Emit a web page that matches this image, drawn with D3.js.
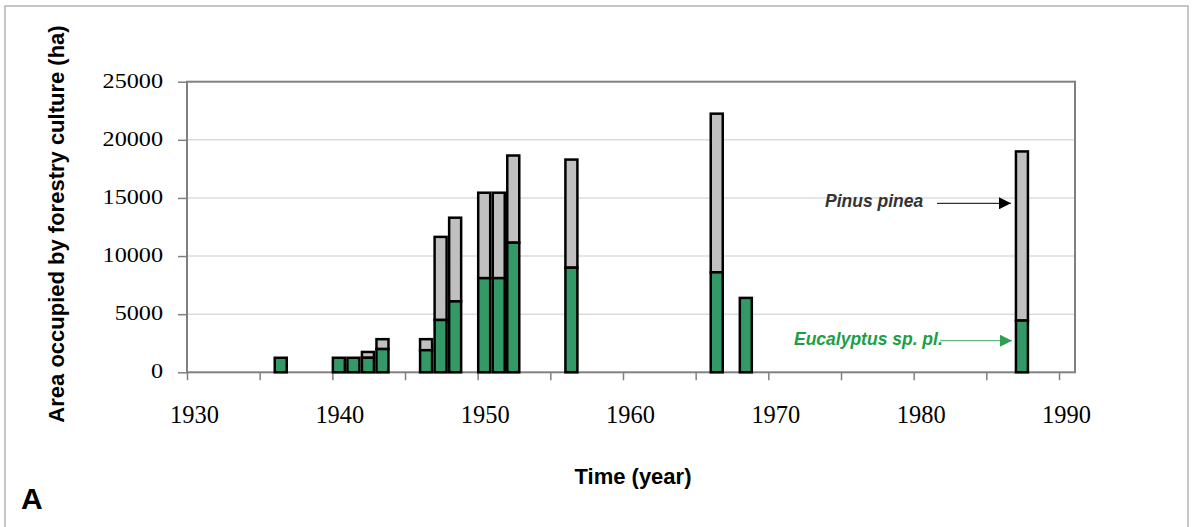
<!DOCTYPE html>
<html lang="en">
  <head>
    <meta charset="utf-8">
    <title>Forestry culture area</title>
    <style>
      body { margin: 0; background: #fff; }
      svg { display: block; }
    </style>
  </head>
  <body>
    <svg width="1198" height="527"></svg>
    <script src="https://cdn.jsdelivr.net/npm/d3@7"></script>
    <script>
      // years with plantings
      const years = [1936, 1940, 1941, 1942, 1943, 1946, 1947, 1948, 1950, 1951, 1952, 1956, 1966, 1968, 1987];
      // hectares per species
      const eucalyptus = [1250, 1250, 1250, 1250, 2000, 1900, 4500, 6100, 8100, 8100, 11150, 9000, 8600, 6400, 4450];
      const pinus = [0, 0, 0, 500, 850, 950, 7150, 7200, 7350, 7350, 7500, 9300, 13650, 0, 14550];

      const xTicks = [1930, 1935, 1940, 1945, 1950, 1955, 1960, 1965, 1970, 1975, 1980, 1985, 1990];
      const xLabels = [1930, 1940, 1950, 1960, 1970, 1980, 1990];
      const yTicks = [0, 5000, 10000, 15000, 20000, 25000];

      const green = '#339966';
      const grey = '#c0c0c0';

      const svg = d3.select('svg');

      const plotL = 187, plotR = 1075, plotT = 81.7, plotB = 372.3;

      const x = d3.scaleLinear().domain([1930, 1990]).range([plotL, 1059]);
      const y = d3.scaleLinear().domain([0, 25000]).range([plotB, plotT]);

      // outer frame
      svg.append('rect')
        .attr('x', 5).attr('y', 6)
        .attr('width', 1183).attr('height', 530)
        .attr('fill', 'none')
        .attr('stroke', '#b4b4b4')
        .attr('stroke-width', 1.5);

      // gridlines
      svg.append('g').selectAll('line')
        .data(yTicks.filter(d => d > 0 && d < 25000)).enter()
        .append('line')
        .attr('x1', plotL).attr('x2', plotR)
        .attr('y1', d => y(d)).attr('y2', d => y(d))
        .attr('stroke', '#dcdcdc')
        .attr('stroke-width', 1.5);

      // plot border
      svg.append('rect')
        .attr('x', plotL).attr('y', plotT)
        .attr('width', plotR - plotL).attr('height', plotB - plotT)
        .attr('fill', 'none')
        .attr('stroke', '#808080')
        .attr('stroke-width', 2);

      // axes (ticks only, labels drawn below)
      const xAxis = svg.append('g')
        .attr('transform', 'translate(0,' + plotB + ')')
        .call(d3.axisBottom(x).tickValues(xTicks).tickSize(8).tickSizeOuter(0).tickFormat(''));
      const yAxis = svg.append('g')
        .attr('transform', 'translate(' + plotL + ',0)')
        .call(d3.axisLeft(y).tickValues(yTicks).tickSize(9).tickSizeOuter(0).tickFormat(''));
      [xAxis, yAxis].forEach(function(a) {
        a.select('.domain').remove();
        a.selectAll('line').attr('stroke', '#808080').attr('stroke-width', 1.5);
      });

      // tick labels
      svg.append('g').selectAll('g')
        .data(xLabels).enter()
        .append('g')
        .attr('transform', d => 'translate(' + (x(d) + 7.5) + ',422.7) scale(0.94,1)')
        .append('text')
        .attr('text-anchor', 'middle')
        .attr('font-family', '"Liberation Serif", "Times New Roman", serif')
        .attr('font-size', 26)
        .attr('fill', '#000')
        .text(d => d);

      svg.append('g').selectAll('g')
        .data(yTicks).enter()
        .append('g')
        .attr('transform', d => 'translate(163,' + (y(d) + 6) + ') scale(1.18,1)')
        .append('text')
        .attr('text-anchor', 'end')
        .attr('font-family', '"Liberation Serif", "Times New Roman", serif')
        .attr('font-size', 20.5)
        .attr('fill', '#000')
        .text(d => d);

      // stacked bars
      const bw = 12;
      const rows = years.map((yr, i) => ({ year: yr, euc: eucalyptus[i], pin: pinus[i] }));
      const bars = svg.append('g').selectAll('g')
        .data(rows).enter()
        .append('g');

      bars.filter(d => d.pin > 0)
        .append('rect')
        .attr('x', d => x(d.year + 0.45) - bw / 2)
        .attr('y', d => y(d.euc + d.pin))
        .attr('width', bw)
        .attr('height', d => y(d.euc) - y(d.euc + d.pin))
        .attr('fill', grey)
        .attr('stroke', '#000')
        .attr('stroke-width', 2.5);

      bars.append('rect')
        .attr('x', d => x(d.year + 0.45) - bw / 2)
        .attr('y', d => y(d.euc))
        .attr('width', bw)
        .attr('height', d => y(0) - y(d.euc))
        .attr('fill', green)
        .attr('stroke', '#000')
        .attr('stroke-width', 2.5);

      // annotations
      const defs = svg.append('defs');
      function marker(id, colour) {
        defs.append('marker')
          .attr('id', id)
          .attr('viewBox', '0 0 12 12')
          .attr('refX', 12).attr('refY', 6)
          .attr('markerWidth', 12).attr('markerHeight', 12)
          .attr('markerUnits', 'userSpaceOnUse')
          .attr('orient', 'auto')
          .append('path')
          .attr('d', 'M0,0 L12,6 L0,12 Z')
          .attr('fill', colour);
      }
      marker('arrBlack', '#000');
      marker('arrGreen', '#2e9e55');

      const tipX = x(1987.45) - bw / 2 - 5;

      svg.append('line')
        .attr('x1', 937).attr('x2', tipX)
        .attr('y1', 203.3).attr('y2', 203.3)
        .attr('stroke', '#000').attr('stroke-width', 1)
        .attr('marker-end', 'url(#arrBlack)');
      svg.append('text')
        .attr('x', 825).attr('y', 207)
        .attr('font-family', 'Arial, "Liberation Sans", sans-serif')
        .attr('font-size', 17.5)
        .attr('font-weight', 'bold')
        .attr('font-style', 'italic')
        .attr('fill', '#333')
        .text('Pinus pinea');

      svg.append('line')
        .attr('x1', 940).attr('x2', tipX + 1)
        .attr('y1', 340.7).attr('y2', 340.7)
        .attr('stroke', '#3aa864').attr('stroke-width', 1)
        .attr('marker-end', 'url(#arrGreen)');
      svg.append('text')
        .attr('x', 794).attr('y', 344.5)
        .attr('font-family', 'Arial, "Liberation Sans", sans-serif')
        .attr('font-size', 17.5)
        .attr('font-weight', 'bold')
        .attr('font-style', 'italic')
        .attr('fill', '#1c9e45')
        .text('Eucalyptus sp. pl.');

      // axis titles
      svg.append('text')
        .attr('transform', 'translate(64,224) rotate(-90)')
        .attr('text-anchor', 'middle')
        .attr('font-family', 'Arial, "Liberation Sans", sans-serif')
        .attr('font-size', 22)
        .attr('font-weight', 'bold')
        .attr('fill', '#000')
        .text('Area occupied by forestry culture (ha)');

      svg.append('text')
        .attr('x', 633).attr('y', 484)
        .attr('text-anchor', 'middle')
        .attr('font-family', 'Arial, "Liberation Sans", sans-serif')
        .attr('font-size', 22)
        .attr('font-weight', 'bold')
        .attr('fill', '#000')
        .text('Time (year)');

      svg.append('text')
        .attr('x', 21).attr('y', 509)
        .attr('font-family', 'Arial, "Liberation Sans", sans-serif')
        .attr('font-size', 30)
        .attr('font-weight', 'bold')
        .attr('fill', '#000')
        .text('A');
    </script>
  </body>
</html>
